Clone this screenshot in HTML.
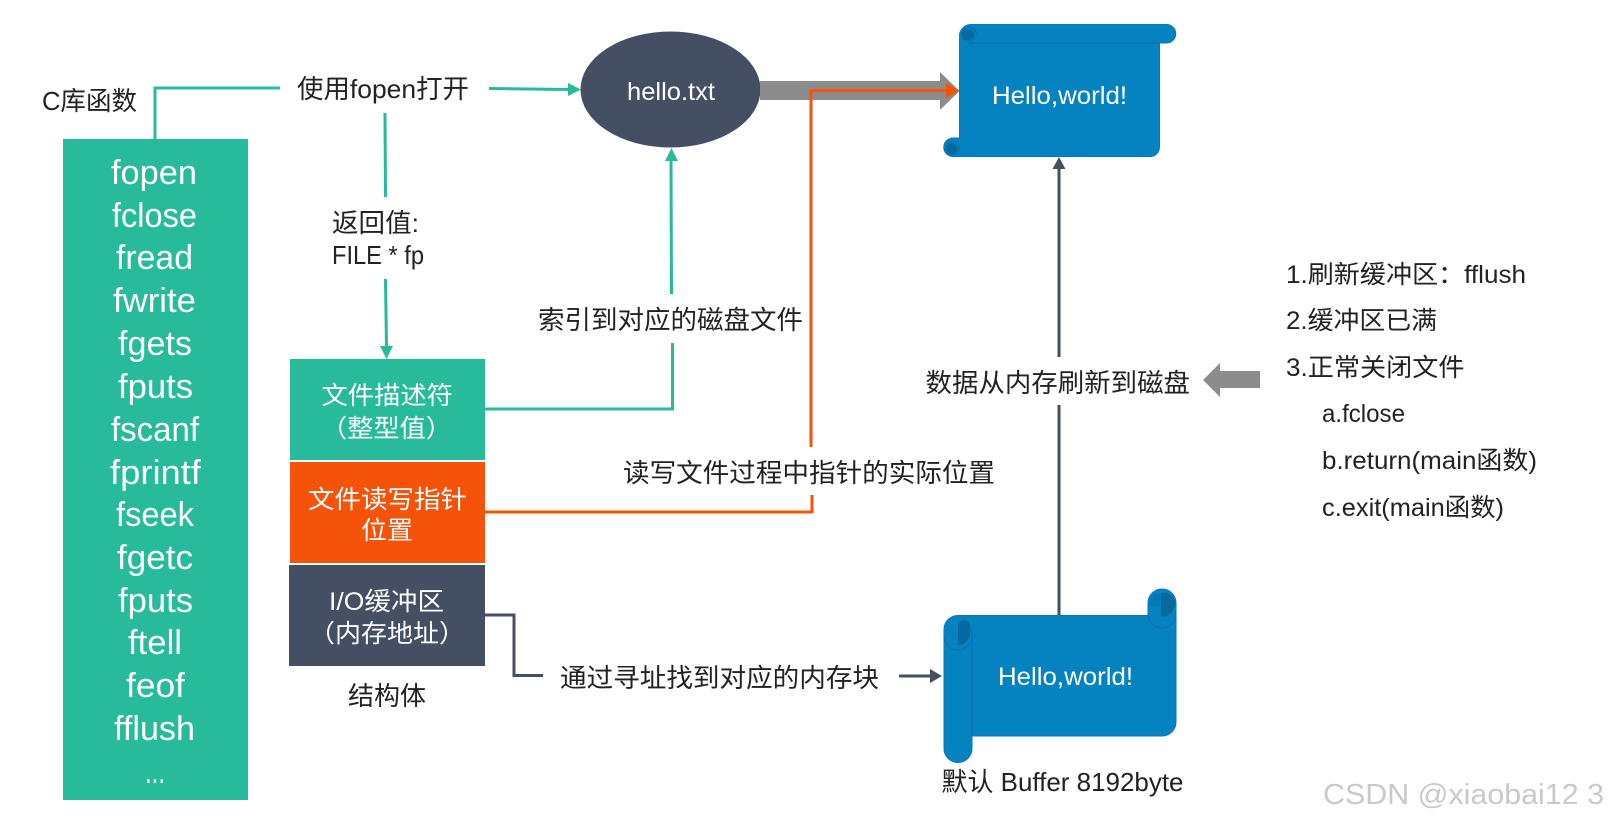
<!DOCTYPE html>
<html><head><meta charset="utf-8">
<style>
html,body{margin:0;padding:0;background:#fff;width:1608px;height:822px;overflow:hidden}
svg{display:block;filter:blur(.35px)}
text{font-family:"Liberation Sans","Noto Sans CJK SC",sans-serif;font-size:26px;fill:#222;font-weight:400}
.w{fill:#fff;font-size:25px}
.l{fill:#fff;font-size:34px}
</style></head><body>
<svg width="1608" height="822" viewBox="0 0 1608 822" xmlns="http://www.w3.org/2000/svg">
<!-- boxes -->
<rect x="63" y="139" width="185" height="661" fill="#27bb9c"/>
<rect x="290" y="359" width="195" height="101" fill="#27bb9c"/>
<rect x="290" y="462" width="195" height="101" fill="#f55309"/>
<rect x="289" y="565" width="196" height="101" fill="#444f63"/>
<ellipse cx="670.5" cy="89.5" rx="90" ry="58" fill="#444f63"/>

<!-- teal connectors -->
<g fill="none" stroke="#27bb9c" stroke-width="3">
<path d="M155 139V88H280"/>
<path d="M489 88.5L570 89.5"/>
<path d="M385 113L385.5 197"/>
<path d="M385.5 279L386.5 348"/>
<path d="M485 409H672.500V343"/>
<path d="M671.500 294L671 160"/>
</g>
<g fill="#27bb9c">
<path d="M581 89.500L568 83V96Z"/>
<path d="M386.500 359L380 346H393Z"/>
<path d="M671.500 148L665 161H678Z"/>
</g>

<!-- grey arrow -->
<path d="M760 81H940V72L959.500 91L940 110V100H760Z" fill="#8c8c8c"/>
<!-- orange -->
<g fill="none" stroke="#f55309" stroke-width="3">
<path d="M485 512H812V495"/>
<path d="M811 447V90.500H948"/>
</g>
<path d="M959.500 90.500L946 83V98Z" fill="#f55309"/>

<!-- dark connectors -->
<g fill="none" stroke="#444f63" stroke-width="3">
<path d="M1059 357V165"/>
<path d="M1059 405V616"/>
<path d="M485 615H514V675.500H543"/>
<path d="M899 676H932"/>
</g>
<g fill="#444f63">
<path d="M1059 157L1052.500 169H1065.500Z"/>
<path d="M942 676L930 669V683Z"/>
</g>
<path d="M1203 380L1220 363V371H1260V388H1220V397Z" fill="#8c8c8c"/>

<!-- scroll 1 -->
<g fill="#0583c1" stroke="#0a76bf" stroke-width="1">
<path d="M959.500 36a11.500 11.500 0 0 1 11.500-11.500H1166.500a9.250 9.250 0 0 1 0 18.500H1159.500V147a9.500 9.500 0 0 1-9.500 9.500H953a9.250 9.250 0 0 1 0-18.500H959.500Z"/>
</g>
<path d="M969 43H1160" stroke="#0a70b8" stroke-width="1.500"/>
<circle cx="969" cy="34" r="8" fill="#0677b7"/>
<path d="M969 30a5 5 0 0 1 0 10h-4a5 5 0 0 1 4-10Z" fill="#06699f"/>
<circle cx="952" cy="148" r="8" fill="#0677b7"/>
<path d="M952 143a5 5 0 0 1 5 5a5 5 0 0 1-10 2a5 5 0 0 1 5-7Z" fill="#06699f"/>

<!-- scroll 2 -->
<path d="M944 630a14 14 0 0 1 14-14.500H1148V603a14 14 0 0 1 28 0V722a14 14 0 0 1-14 14H972V748.500a14 14 0 0 1-28 0Z" fill="#0583c1" stroke="#0a76bf" stroke-width="1"/>
<path d="M972 736V636M944 636a14 14 0 0 0 28 0a14 14 0 0 0-14-14M1148 614a14 14 0 0 0 28 0" fill="none" stroke="#0a70b8" stroke-width="1.200"/>
<path d="M958 626a6 6 0 0 1 12 0V635a12 12 0 0 1-12 10Z" fill="#06699f"/>
<path d="M1161 593a11 11 0 0 1 14 10a14 14 0 0 1-14 14Z" fill="#06699f"/>
<path d="M1149 606a12 12 0 0 1 12-13V606Z" fill="#0677b7"/>

<!-- list -->
<g>
<text class="l" x="111" y="184" textLength="86" lengthAdjust="spacingAndGlyphs">fopen</text>
<text class="l" x="112" y="227" textLength="85" lengthAdjust="spacingAndGlyphs">fclose</text>
<text class="l" x="116" y="269" textLength="77" lengthAdjust="spacingAndGlyphs">fread</text>
<text class="l" x="113" y="312" textLength="83" lengthAdjust="spacingAndGlyphs">fwrite</text>
<text class="l" x="118" y="355" textLength="74" lengthAdjust="spacingAndGlyphs">fgets</text>
<text class="l" x="118" y="398" textLength="75" lengthAdjust="spacingAndGlyphs">fputs</text>
<text class="l" x="111" y="441" textLength="88" lengthAdjust="spacingAndGlyphs">fscanf</text>
<text class="l" x="110" y="484" textLength="91" lengthAdjust="spacingAndGlyphs">fprintf</text>
<text class="l" x="116" y="526" textLength="78" lengthAdjust="spacingAndGlyphs">fseek</text>
<text class="l" x="117" y="569" textLength="76" lengthAdjust="spacingAndGlyphs">fgetc</text>
<text class="l" x="118" y="612" textLength="75" lengthAdjust="spacingAndGlyphs">fputs</text>
<text class="l" x="128" y="654" textLength="54" lengthAdjust="spacingAndGlyphs">ftell</text>
<text class="l" x="126" y="697" textLength="59" lengthAdjust="spacingAndGlyphs">feof</text>
<text class="l" x="114" y="740" textLength="81" lengthAdjust="spacingAndGlyphs">fflush</text>
<text class="l" x="145" y="783" textLength="20" lengthAdjust="spacingAndGlyphs">...</text>
</g>

<!-- labels -->
<text x="42" y="110" textLength="95" lengthAdjust="spacingAndGlyphs">C库函数</text>
<text x="297" y="98" textLength="172" lengthAdjust="spacingAndGlyphs">使用fopen打开</text>
<text x="332" y="232" textLength="87" lengthAdjust="spacingAndGlyphs">返回值:</text>
<text x="332" y="264" textLength="92" lengthAdjust="spacingAndGlyphs">FILE * fp</text>
<text x="538" y="329" textLength="265" lengthAdjust="spacingAndGlyphs">索引到对应的磁盘文件</text>
<text x="623" y="482" textLength="372" lengthAdjust="spacingAndGlyphs">读写文件过程中指针的实际位置</text>
<text x="560" y="687" textLength="319" lengthAdjust="spacingAndGlyphs">通过寻址找到对应的内存块</text>
<text x="348" y="705" textLength="78" lengthAdjust="spacingAndGlyphs">结构体</text>
<text x="925.500" y="392" textLength="264.500" lengthAdjust="spacingAndGlyphs">数据从内存刷新到磁盘</text>
<text x="941.500" y="791" font-size="25" textLength="242" lengthAdjust="spacingAndGlyphs">默认 Buffer 8192byte</text>

<text class="w" x="321.500" y="404" textLength="131.500" lengthAdjust="spacingAndGlyphs">文件描述符</text>
<text class="w" x="321" y="437" textLength="131" lengthAdjust="spacingAndGlyphs">（整型值）</text>
<text class="w" x="308" y="508" textLength="159" lengthAdjust="spacingAndGlyphs">文件读写指针</text>
<text class="w" x="361" y="539" textLength="52" lengthAdjust="spacingAndGlyphs">位置</text>
<text class="w" x="329" y="610" textLength="115" lengthAdjust="spacingAndGlyphs">I/O缓冲区</text>
<text class="w" x="309" y="642" textLength="156" lengthAdjust="spacingAndGlyphs">（内存地址）</text>

<text class="w" x="627" y="100" textLength="88" lengthAdjust="spacingAndGlyphs">hello.txt</text>
<text class="w" x="992" y="104" textLength="135" lengthAdjust="spacingAndGlyphs">Hello,world!</text>
<text class="w" x="998" y="685" textLength="135" lengthAdjust="spacingAndGlyphs">Hello,world!</text>

<g>
<text style="font-size:25px" x="1286" y="283" textLength="240" lengthAdjust="spacingAndGlyphs">1.刷新缓冲区：fflush</text>
<text style="font-size:25px" x="1286" y="329" textLength="151" lengthAdjust="spacingAndGlyphs">2.缓冲区已满</text>
<text style="font-size:25px" x="1286" y="376" textLength="178.500" lengthAdjust="spacingAndGlyphs">3.正常关闭文件</text>
<text style="font-size:25px" x="1322" y="422" textLength="83" lengthAdjust="spacingAndGlyphs">a.fclose</text>
<text style="font-size:25px" x="1322" y="469" textLength="215" lengthAdjust="spacingAndGlyphs">b.return(main函数)</text>
<text style="font-size:25px" x="1322" y="516" textLength="182" lengthAdjust="spacingAndGlyphs">c.exit(main函数)</text>
</g>

<text x="1323" y="804" style="font-size:29px;fill:#c9c9c9" textLength="281" lengthAdjust="spacingAndGlyphs">CSDN @xiaobai12 3</text>
</svg>
</body></html>
